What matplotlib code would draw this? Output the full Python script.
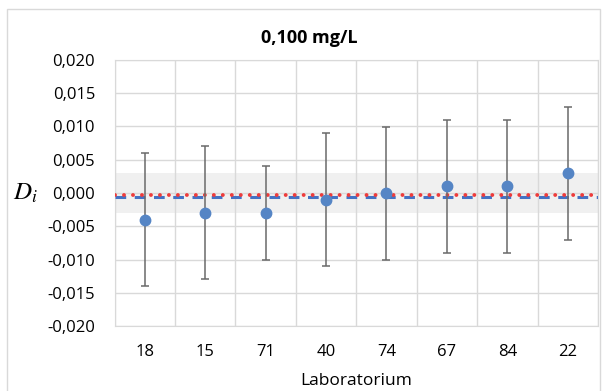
import numpy as np
import matplotlib.pyplot as plt
from matplotlib.patches import Rectangle
from matplotlib.ticker import FuncFormatter, MultipleLocator

# data
labs = ['18', '15', '71', '40', '74', '67', '84', '22']
d_values = [-0.004, -0.003, -0.003, -0.001, 0.000, 0.001, 0.001, 0.003]
d_errors = [0.010, 0.010, 0.007, 0.010, 0.010, 0.010, 0.010, 0.010]
band_half = 0.003
mean_line = -0.00065
median_line = -0.00035

plt.rcParams['font.family'] = ['Open Sans', 'DejaVu Sans']
plt.rcParams['mathtext.fontset'] = 'stix'

fig = plt.figure(figsize=(6.08, 3.91), dpi=100)
W, H = 608, 391
ax = fig.add_axes([114.5 / W, 1 - 326 / H, (598 - 114.5) / W, (326 - 60) / H])

x = np.arange(len(labs))
ax.set_xlim(-0.5, len(labs) - 0.5)
ax.set_ylim(-0.020, 0.020)

ax.axhspan(-band_half, band_half, color='#f0f0f0', zorder=0, lw=0)

ax.yaxis.set_major_locator(MultipleLocator(0.005))
ax.set_xticks(x)
ax.set_xticks(np.arange(-0.5, len(labs)), minor=True)
ax.set_xticklabels(labs)
ax.grid(True, which='major', axis='y', color='#d9d9d9', lw=1, zorder=1)
ax.grid(True, which='minor', axis='x', color='#d9d9d9', lw=1, zorder=1)
ax.tick_params(which='both', length=0)
ax.tick_params(axis='y', pad=14, labelsize=12)
ax.tick_params(axis='x', pad=13, labelsize=12)
ax.yaxis.set_major_formatter(FuncFormatter(lambda v, p: f'{v:.3f}'.replace('.', ',').replace('-0,000', '0,000')))
for s in ax.spines.values():
    s.set_color('#d9d9d9')

ax.axhline(mean_line, color='#4472c4', lw=2.2, ls=(0, (3.5, 2.8)), zorder=3)
ax.axhline(median_line, color='#ee3b3b', lw=2.8, ls=(0, (0.01, 2.3)), dash_capstyle='round', zorder=3)

ax.errorbar(x, d_values, yerr=d_errors, fmt='o', color='#5585c5', ms=7.5,
            ecolor='#6a6a6a', elinewidth=1.1, capsize=3, capthick=1.1, zorder=4)

ax.set_xlabel('Laboratorium', fontsize=12.5, labelpad=9)
ax.set_ylabel('$D_i$', fontsize=18, rotation=0, va='center', ha='center')
ax.yaxis.set_label_coords(-0.185, 0.5)
fig.text(309 / W, 1 - 38 / H, '0,100 mg/L', ha='center', va='center', fontsize=13, fontweight='bold')

fig.patches.append(Rectangle((7 / W, -0.02), (600 - 7) / W, 1 - 9 / H + 0.02, transform=fig.transFigure,
                             fill=False, edgecolor='#d9d9d9', lw=1))

fig.savefig('out.png', dpi=100)
